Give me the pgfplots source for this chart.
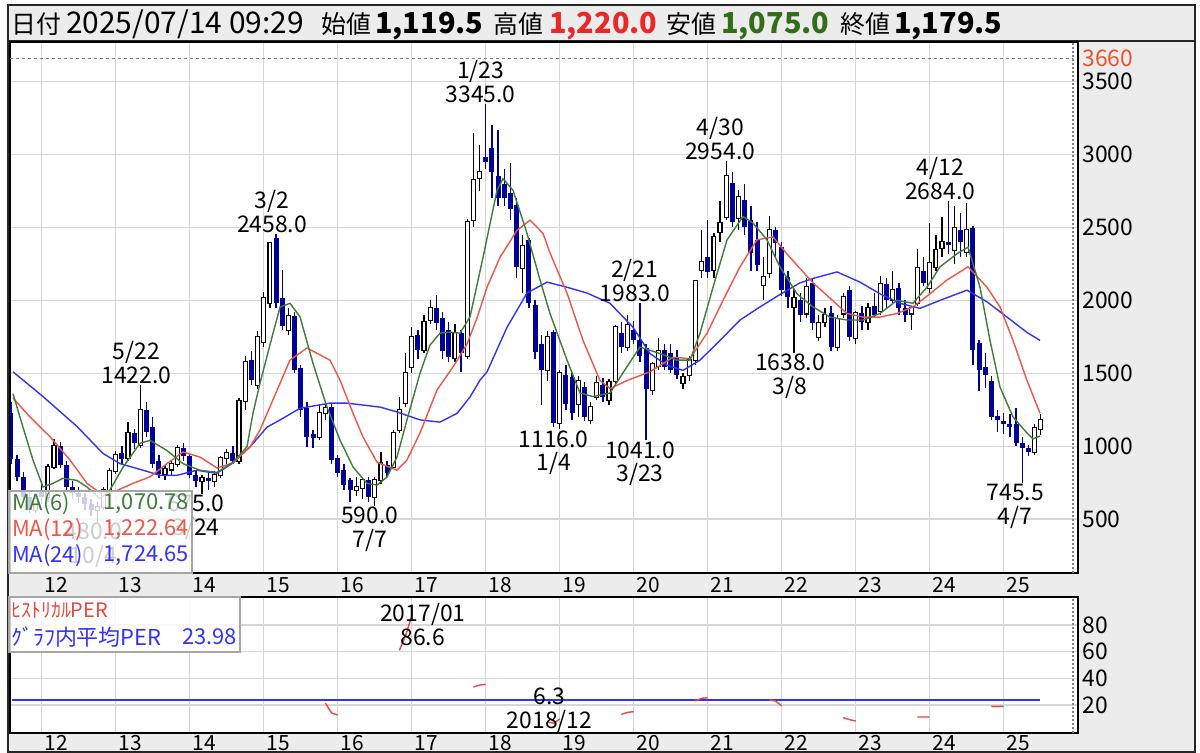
\documentclass[border=0pt]{standalone}
\usepackage{fontspec}
\setmainfont{Noto Sans CJK JP}
\usepackage{pgfplots}
\usepackage{pgfplotstable}
\pgfplotsset{compat=1.18}

\definecolor{candown}{RGB}{0,0,150}
\definecolor{ma6}{RGB}{60,125,55}
\definecolor{ma12}{RGB}{240,85,70}
\definecolor{ma24}{RGB}{50,50,250}
\definecolor{gridc}{RGB}{215,215,215}
\definecolor{panelbg}{RGB}{236,236,236}
\definecolor{hired}{RGB}{235,40,40}
\definecolor{logreen}{RGB}{50,110,25}
\definecolor{tickred}{RGB}{232,85,45}
\definecolor{perred}{RGB}{235,70,60}

% monthly candles: x = year + (month-1)/12
\pgfplotstableread{
x o h l c
2011.917 560 680 540 640
2012.083 650 880 620 860
2012.167 860 1050 840 1000
2012.750 560 620 480 580
2012.833 580 720 560 700
2012.917 700 850 680 830
2013.000 830 970 810 940
2013.167 920 1165 900 1090
2013.333 1010 1422 990 1250
2013.667 810 870 770 840
2013.750 840 900 800 880
2013.833 880 1010 860 990
2014.167 760 800 675 780
2014.333 760 830 720 800
2014.417 800 930 780 920
2014.500 920 980 880 950
2014.667 900 1330 880 1310
2014.750 1310 1620 1250 1580
2014.917 1420 1790 1390 1750
2015.000 1715 2060 1680 2015
2015.083 1980 2400 1950 2390
2015.333 1800 1950 1760 1890
2015.750 1063 1282 1040 1227
2015.833 1227 1300 1180 1262
2016.250 700 790 660 720
2016.333 710 780 640 765
2016.500 650 790 590 765
2016.583 765 960 740 882
2016.750 857 1110 840 1090
2016.833 1110 1340 1090 1248
2016.917 1295 1640 1270 1500
2017.000 1543 1820 1500 1750
2017.167 1660 1900 1640 1850
2017.250 1865 2000 1840 1946
2017.583 1603 1840 1580 1775
2017.750 1620 2560 1600 2540
2017.833 2550 3150 2500 2825
2017.917 2840 3065 2750 2880
2018.500 2220 2450 2050 2370
2018.833 1520 1790 1450 1750
2019.000 1160 1520 1116 1500
2019.250 1290 1480 1200 1450
2019.417 1180 1300 1150 1270
2019.500 1335 1480 1320 1430
2019.667 1315 1460 1280 1440
2019.750 1450 1830 1420 1815
2019.917 1680 1900 1650 1830
2020.250 1385 1580 1350 1565
2020.333 1550 1740 1520 1650
2020.667 1435 1500 1390 1475
2020.750 1490 1620 1450 1590
2020.833 1590 2140 1560 2130
2020.917 2210 2480 2150 2265
2021.083 2210 2460 2150 2435
2021.167 2470 2680 2400 2530
2021.250 2575 2954 2550 2850
2021.417 2565 2760 2480 2710
2021.750 2105 2300 2000 2160
2021.833 2185 2580 2150 2480
2022.167 1955 2080 1638 2015
2022.333 1910 2150 1880 2090
2022.500 1750 1900 1720 1845
2022.583 1850 1950 1820 1900
2022.750 1680 1900 1650 1870
2022.833 1910 2050 1880 2025
2023.000 1740 1930 1700 1910
2023.167 1850 1980 1800 1950
2023.333 1930 2170 1900 2115
2023.500 2000 2200 1980 2070
2023.750 1910 1960 1800 1950
2023.833 1980 2350 1960 2220
2024.000 2085 2530 2050 2255
2024.083 2230 2450 2200 2345
2024.167 2360 2575 2300 2400
2024.333 2345 2650 2250 2495
2024.500 2335 2665 2300 2480
2025.417 960 1150 940 1125
2025.500 1119.5 1220 1075 1179.5
}\upc

\pgfplotstableread{
x o h l c
2011.583 1230 1300 880 910
2011.667 910 940 760 790
2011.750 790 820 620 650
2011.833 650 700 540 560
2012.000 700 760 600 650
2012.250 1000 1030 850 870
2012.333 870 900 700 720
2012.417 720 760 640 680
2012.500 680 720 610 650
2012.583 650 680 560 600
2012.667 600 640 520 560
2013.083 950 1000 880 915
2013.250 1090 1120 980 1020
2013.417 1250 1300 1060 1100
2013.500 1130 1200 850 880
2013.583 900 940 780 810
2013.917 990 1020 900 930
2014.000 930 950 780 800
2014.083 800 830 720 760
2014.250 780 820 700 760
2014.583 950 1000 880 900
2014.833 1590 1650 1420 1455
2015.167 2425 2458 1950 1980
2015.250 2015 2210 1800 1825
2015.417 1890 1920 1500 1525
2015.500 1536 1560 1200 1250
2015.583 1262 1300 994 1063
2015.667 1085 1110 990 1055
2015.917 1268 1290 880 905
2016.000 917 940 790 815
2016.083 835 880 700 732
2016.167 765 780 617 700
2016.417 765 790 620 650
2016.667 870 900 790 815
2017.083 1762 1800 1600 1660
2017.333 1946 2036 1800 1845
2017.417 1880 1920 1600 1650
2017.500 1796 1850 1580 1612
2017.667 1775 1800 1508 1640
2018.000 2980 3345 2900 2950
2018.083 3045 3200 2700 2880
2018.167 2850 3170 2650 2700
2018.250 2800 2900 2650 2700
2018.333 2735 2940 2550 2630
2018.417 2655 2700 2150 2230
2018.583 2415 2430 1950 1980
2018.667 1970 2000 1600 1645
2018.750 1700 1760 1280 1520
2018.917 1785 1800 1130 1160
2019.083 1490 1560 1250 1290
2019.167 1475 1500 1180 1225
2019.333 1405 1440 1170 1200
2019.583 1420 1470 1300 1340
2019.833 1775 1850 1640 1680
2020.000 1800 1860 1700 1730
2020.083 1730 1983 1580 1620
2020.167 1670 1700 1041 1390
2020.417 1660 1700 1520 1540
2020.500 1640 1700 1500 1520
2020.583 1610 1660 1460 1490
2021.000 2300 2550 2150 2195
2021.333 2805 2880 2500 2540
2021.500 2690 2800 2450 2505
2021.583 2550 2650 2200 2325
2021.667 2415 2540 2200 2240
2021.917 2480 2500 2300 2390
2022.000 2365 2400 2030 2070
2022.083 2160 2200 1950 2025
2022.250 2000 2050 1850 1900
2022.417 2120 2150 1800 1845
2022.667 1910 1960 1650 1680
2022.917 2070 2100 1720 1750
2023.083 1910 1960 1800 1850
2023.250 1960 2050 1880 1900
2023.417 2115 2150 1950 2000
2023.583 2085 2120 1900 1950
2023.667 1950 2000 1850 1900
2023.917 2200 2300 2100 2120
2024.250 2400 2684 2320 2380
2024.417 2480 2600 2300 2400
2024.583 2495 2510 1560 1660
2024.667 1705 1730 1380 1520
2024.750 1545 1640 1400 1490
2024.833 1450 1480 1180 1200
2024.917 1210 1250 1100 1180
2025.000 1170 1230 1080 1150
2025.083 1150 1220 1060 1130
2025.167 1150 1260 1000 1020
2025.250 1020 1060 745.5 985
2025.333 985 1010 930 960
}\dnc

\pgfplotstableread{
x y
2011.612 1510
2012.018 1340
2012.477 1135
2012.828 950
2013.058 880
2013.369 835
2013.599 800
2013.828 800
2014.099 835
2014.274 820
2014.369 815
2014.585 885
2014.815 995
2015.044 1130
2015.222 1180
2015.491 1260
2015.896 1295
2016.126 1295
2016.572 1268
2016.801 1235
2017.112 1180
2017.382 1165
2017.612 1225
2017.788 1337
2017.923 1453
2018.018 1510
2018.288 1815
2018.558 2050
2018.828 2125
2019.099 2090
2019.369 2050
2019.680 1980
2019.991 1815
2020.220 1635
2020.450 1555
2020.666 1520
2020.896 1590
2021.166 1725
2021.436 1865
2021.707 1955
2021.976 2040
2022.247 2120
2022.423 2150
2022.747 2195
2023.058 2125
2023.328 2045
2023.599 1980
2023.869 1945
2024.139 2000
2024.504 2070
2024.774 1990
2025.045 1885
2025.315 1780
2025.491 1725
}\maTF

\pgfplotstableread{
x y
2011.612 1330
2011.842 1200
2012.112 1065
2012.382 905
2012.612 745
2012.788 680
2012.991 690
2013.234 745
2013.464 790
2013.693 880
2013.909 960
2014.139 925
2014.369 850
2014.585 885
2014.815 995
2014.949 1110
2015.222 1432
2015.355 1590
2015.585 1673
2015.896 1590
2016.031 1453
2016.207 1226
2016.342 1063
2016.531 890
2016.801 835
2016.936 905
2017.112 1090
2017.342 1385
2017.558 1543
2017.747 1700
2017.883 1880
2018.018 2090
2018.193 2295
2018.423 2480
2018.599 2550
2018.774 2460
2018.869 2325
2019.099 2050
2019.315 1725
2019.545 1450
2019.680 1395
2019.909 1450
2020.220 1510
2020.531 1610
2020.761 1600
2020.991 1775
2021.207 2000
2021.436 2230
2021.666 2415
2021.882 2435
2022.111 2295
2022.423 2120
2022.882 1910
2023.099 1885
2023.328 1885
2023.558 1910
2023.774 1955
2024.004 2045
2024.234 2140
2024.518 2230
2024.774 2090
2024.950 1955
2025.126 1725
2025.315 1450
2025.491 1225
}\maTw

\pgfplotstableread{
x y
2011.612 1360
2011.747 1130
2011.882 905
2012.018 720
2012.153 745
2012.288 780
2012.477 765
2012.612 720
2012.788 640
2012.923 700
2013.099 855
2013.328 1020
2013.464 1040
2013.693 970
2013.909 880
2014.139 835
2014.369 820
2014.585 890
2014.774 995
2014.855 1225
2014.949 1430
2015.126 1775
2015.222 1955
2015.355 1980
2015.491 1887
2015.666 1568
2015.855 1268
2016.031 1042
2016.207 857
2016.396 745
2016.531 733
2016.666 788
2016.801 925
2016.936 1180
2017.112 1500
2017.247 1693
2017.382 1775
2017.518 1782
2017.653 1775
2017.788 1887
2017.964 2295
2018.153 2755
2018.234 2835
2018.369 2755
2018.558 2460
2018.734 2140
2018.869 1910
2019.099 1590
2019.274 1365
2019.450 1340
2019.680 1365
2019.909 1545
2020.085 1680
2020.355 1635
2020.585 1590
2020.761 1590
2020.896 1775
2021.072 2090
2021.261 2415
2021.477 2575
2021.612 2530
2021.801 2415
2021.976 2230
2022.207 2045
2022.423 1955
2022.653 1885
2022.882 1865
2023.099 1865
2023.328 1910
2023.558 2000
2023.774 1980
2023.963 2090
2024.139 2230
2024.369 2320
2024.518 2365
2024.680 2090
2024.815 1725
2024.950 1405
2025.126 1200
2025.315 1090
2025.396 1050
2025.491 1070
}\maS

\pgfplotstableread{
x y
2015.833 21.5
2015.917 14
2016.000 12.5
nan nan
2016.833 61
2016.917 72
2017.000 86.6
nan nan
2017.833 33.5
2017.917 35
2018.000 35.5
nan nan
2018.833 7.5
2018.917 6.3
2019.000 9.5
nan nan
2019.833 13
2019.917 14.5
2020.000 15
nan nan
2020.833 23
2020.917 25
2021.000 25.5
nan nan
2021.833 24
2021.917 23
2022.000 19.5
nan nan
2022.833 10.5
2022.917 9
2023.000 8
nan nan
2023.833 11
2023.917 11
2024.000 11
nan nan
2024.833 19
2024.917 19
2025.000 19
}\per

\newcommand{\fs}[1]{\fontsize{#1}{#1}\selectfont}
\tikzset{ann/.style={font=\fontsize{23}{24}\selectfont, align=center, inner sep=1bp}}

\begin{document}
\begin{tikzpicture}
% canvas and panels
\fill[white] (0bp,0bp) rectangle (1200bp,-753bp);
\fill[panelbg] (8bp,-5bp) rectangle (1195bp,-41bp);
\fill[panelbg] (1078bp,-41bp) rectangle (1195bp,-573bp);
\fill[panelbg] (8bp,-573bp) rectangle (1195bp,-597bp);
\fill[panelbg] (1078bp,-597bp) rectangle (1195bp,-733bp);
\fill[panelbg] (8bp,-733bp) rectangle (1195bp,-753bp);
\draw[black!85, line width=1.5bp] (8bp,-5bp) rectangle (1195bp,-41bp);
\draw[black!85, line width=1.5bp] (8bp,-41bp) rectangle (1195bp,-752bp);

% header
\begin{scope}[every node/.style={anchor=base west, inner sep=0pt}]
\node[font=\fs{25}] at (11bp,-33bp) {日付};
\node[font=\fs{30}] at (66bp,-33bp) {2025/07/14 09:29};
\node[font=\fs{25}] at (321bp,-33bp) {始値};
\node[font=\fs{29}\bfseries] at (375bp,-33bp) {1,119.5};
\node[font=\fs{25}] at (493bp,-33bp) {高値};
\node[font=\fs{29}\bfseries, text=hired] at (549bp,-33bp) {1,220.0};
\node[font=\fs{25}] at (666bp,-33bp) {安値};
\node[font=\fs{29}\bfseries, text=logreen] at (721bp,-33bp) {1,075.0};
\node[font=\fs{25}] at (840bp,-33bp) {終値};
\node[font=\fs{29}\bfseries] at (894bp,-33bp) {1,179.5};
\end{scope}

\pgfplotsset{
  panel/.style={
    scale only axis, width=1068bp,
    xmin=2011.5716, xmax=2026.004,
    axis line style={black, line width=1.5bp},
    xtick={2012,...,2025}, xticklabels={},
    major tick length=0pt,
    grid=major, grid style={gridc, line width=1.2bp},
    yticklabel pos=right,
    clip mode=individual,
  },
  wick/.style={forget plot, draw=none, error bars/.cd, y dir=plus, y explicit, error mark=none,
     error bar style={draw=#1, line width=1.4bp}},
  body/.style 2 args={forget plot, draw=none, error bars/.cd, y dir=plus, y explicit, error mark=none,
     error bar style={draw=#1, line width=#2}},
}

% ---------- price panel ----------
\begin{axis}[panel, at={(10bp,-42bp)}, anchor=north west, height=531bp,
  ymin=130, ymax=3772,
  ytick={500,1000,1500,2000,2500,3000,3500},
  yticklabels={500,1000,1500,2000,2500,3000,3500},
  yticklabel style={font=\fs{23}, anchor=west, xshift=1bp},
  extra y ticks={3660}, extra y tick labels={3660},
  extra y tick style={grid=none, tick label style={text=tickred}},
]
\addplot[wick=candown] table[x=x, y=l, y error expr=\thisrow{h}-\thisrow{l}] {\dnc};
\addplot[body={candown}{5bp}] table[x=x, y=c, y error expr=\thisrow{o}-\thisrow{c}] {\dnc};
\addplot[wick=black] table[x=x, y=l, y error expr=\thisrow{h}-\thisrow{l}] {\upc};
\addplot[body={black}{5.2bp}] table[x=x, y expr=\thisrow{o}-7, y error expr=\thisrow{c}-\thisrow{o}+14] {\upc};
\addplot[body={white}{2.6bp}] table[x=x, y=o, y error expr=\thisrow{c}-\thisrow{o}] {\upc};

\addplot[ma24, line width=1.4bp] table {\maTF};
\addplot[ma12, line width=1.4bp] table {\maTw};
\addplot[ma6, line width=1.4bp] table {\maS};

\draw[gray, dash pattern=on 3bp off 3bp, line width=1bp] (axis cs:2011.5716,3660) -- (axis cs:2025.936,3660);
\draw[gray, dash pattern=on 2bp off 2bp, line width=1.2bp] (axis cs:2025.936,130) -- (axis cs:2025.936,3772);

% high annotations
\node[ann, anchor=south, xshift=-4bp] at (axis cs:2013.333,1422) {5/22\\1422.0};
\node[ann, anchor=south, xshift=-4bp] at (axis cs:2015.167,2458) {3/2\\2458.0};
\node[ann, anchor=south, xshift=-5bp] at (axis cs:2018.0,3345) {1/23\\3345.0};
\node[ann, anchor=south, xshift=-5bp] at (axis cs:2020.083,1983) {2/21\\1983.0};
\node[ann, anchor=south, xshift=-6bp] at (axis cs:2021.25,2954) {4/30\\2954.0};
\node[ann, anchor=south, xshift=-8bp] at (axis cs:2024.25,2684) {4/12\\2684.0};
% low annotations
\node[ann, anchor=north, xshift=-4bp] at (axis cs:2012.75,480) {480.0\\10/4};
\node[ann, anchor=north, xshift=-6bp] at (axis cs:2014.167,675) {675.0\\3/24};
\node[ann, anchor=north, xshift=-5bp] at (axis cs:2016.5,590) {590.0\\7/7};
\node[ann, anchor=north, xshift=-6bp] at (axis cs:2019.0,1116) {1116.0\\1/4};
\node[ann, anchor=north, xshift=-6bp] at (axis cs:2020.167,1041) {1041.0\\3/23};
\node[ann, anchor=north, xshift=-4bp] at (axis cs:2022.167,1638) {1638.0\\3/8};
\node[ann, anchor=north, xshift=-7bp] at (axis cs:2025.25,745.5) {745.5\\4/7};

\pgfplotsinvokeforeach{12,...,25}{
  \node[font=\fs{21}, anchor=center] at (axis cs:20#1.2,130) [yshift=-12bp] {#1};
}
\end{axis}

% MA legend
\fill[white, fill opacity=0.8] (9bp,-491bp) rectangle (192bp,-573bp);
\draw[gray!70, line width=1.5bp] (9bp,-491bp) rectangle (192bp,-573bp);
\begin{scope}[every node/.style={inner sep=0pt, font=\fs{22}}]
\node[anchor=west, text=ma6] at (12bp,-504bp) {MA(6)};
\node[anchor=east, text=ma6] at (189bp,-504bp) {1,070.78};
\node[anchor=west, text=ma12] at (12bp,-530bp) {MA(12)};
\node[anchor=east, text=ma12] at (189bp,-530bp) {1,222.64};
\node[anchor=west, text=ma24] at (12bp,-556bp) {MA(24)};
\node[anchor=east, text=ma24] at (189bp,-556bp) {1,724.65};
\end{scope}

% ---------- PER panel ----------
\begin{axis}[panel, at={(10bp,-597bp)}, anchor=north west, height=136bp,
  ymin=-1, ymax=101,
  ytick={20,40,60,80}, yticklabels={20,40,60,80},
  yticklabel style={font=\fs{23}, anchor=west, xshift=1bp},
  unbounded coords=jump,
]
\addplot[draw=ma24, line width=2bp] coordinates {(2011.60,23.98) (2025.49,23.98)};
\addplot[draw=perred, line width=1.4bp] table {\per};
\draw[gray, dash pattern=on 2bp off 2bp, line width=1.2bp] (axis cs:2025.936,-1) -- (axis cs:2025.936,101);
\node[ann, anchor=center, yshift=-8bp] at (axis cs:2017.15,86.6) {2017/01\\86.6};
\node[ann, anchor=center, yshift=13bp, xshift=-4bp] at (axis cs:2018.917,6.3) {6.3\\2018/12};
\pgfplotsinvokeforeach{12,...,25}{
  \node[font=\fs{21}, anchor=center] at (axis cs:20#1.2,-1) [yshift=-10bp] {#1};
}
\end{axis}

% PER legend
\fill[white, fill opacity=0.8] (9bp,-597bp) rectangle (240bp,-652bp);
\draw[gray!70, line width=1.5bp] (9bp,-597bp) rectangle (240bp,-652bp);
\node[anchor=west, inner sep=0pt, font=\fs{20}, text=perred] at (11bp,-610bp) {ﾋｽﾄﾘｶﾙPER};
\node[anchor=west, inner sep=0pt, font=\fs{22}, text=ma24] at (11bp,-637bp) {ｸﾞﾗﾌ内平均PER};
\node[anchor=east, inner sep=0pt, font=\fs{22}, text=ma24] at (237bp,-637bp) {23.98};

\pgfresetboundingbox
\useasboundingbox (0bp,0bp) rectangle (1200bp,-753bp);
\end{tikzpicture}
\end{document}
